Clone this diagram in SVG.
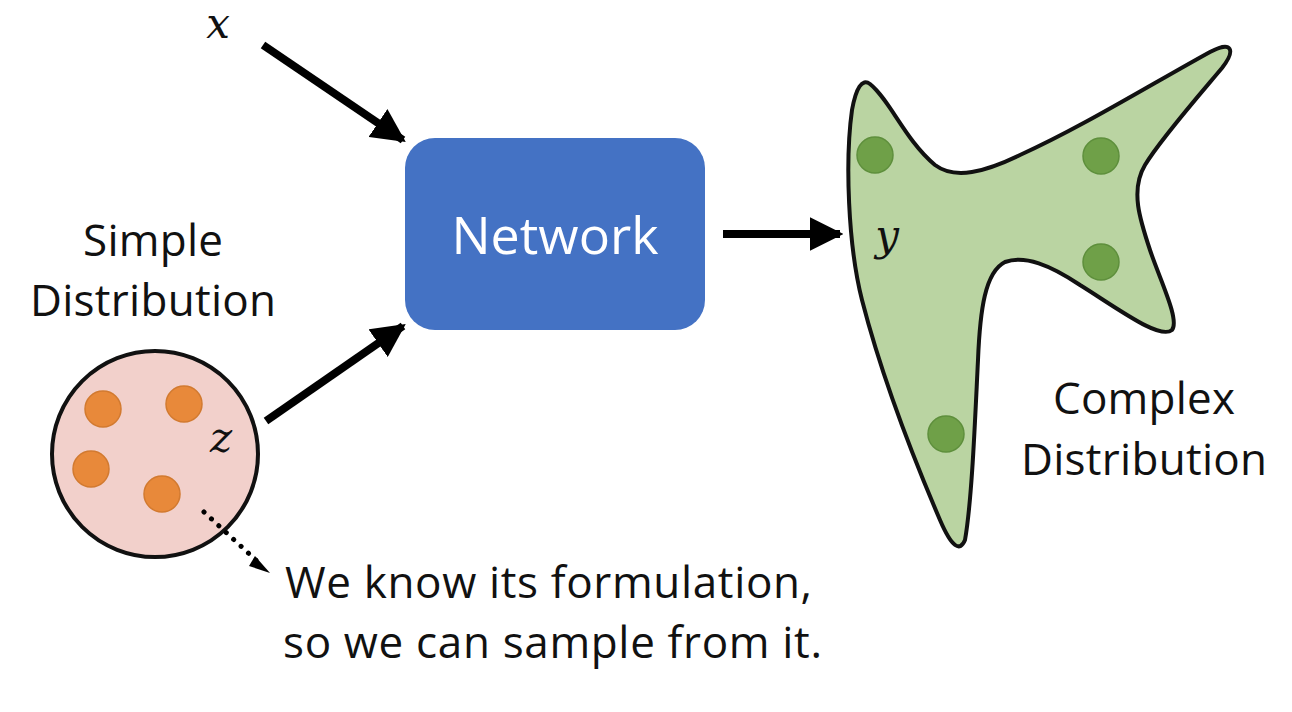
<svg xmlns="http://www.w3.org/2000/svg" width="1292" height="712" viewBox="0 0 1292 712">
<defs>
<style>
.lbl{font-family:"Open Sans","Noto Sans","Liberation Sans",sans-serif;font-size:44px;fill:#111;text-anchor:middle}
.note{font-family:"Open Sans","Noto Sans","Liberation Sans",sans-serif;font-size:44px;fill:#111}
.var{font-family:"DejaVu Serif","Liberation Serif",serif;font-style:italic;font-size:42px;fill:#111;text-anchor:middle}
.arr{stroke:#000;stroke-width:8;fill:none;marker-end:url(#ah)}
.odot{fill:#E8893A;stroke:#D27A30;stroke-width:1.5}
.gdot{fill:#6FA048;stroke:#5E8F3C;stroke-width:1.5}
</style>
<marker id="ah" viewBox="0 0 10 10" refX="9" refY="5" markerWidth="4.2" markerHeight="4.2" orient="auto" markerUnits="strokeWidth">
<path d="M0,0 L10,5 L0,10 z" fill="#000"/>
</marker>
</defs>
<rect width="1292" height="712" fill="#fff"/>

<g id="simple">
<circle cx="155" cy="454" r="103" fill="#F2D0CB" stroke="#111" stroke-width="4"/>
<circle class="odot" cx="103" cy="409" r="18"/>
<circle class="odot" cx="184" cy="404" r="18"/>
<circle class="odot" cx="91" cy="469" r="18"/>
<circle class="odot" cx="162" cy="494" r="18"/>
<text class="var" x="221" y="452">z</text>
<text class="lbl" x="153" y="256" textLength="140">Simple</text>
<text class="lbl" x="153" y="316" textLength="246">Distribution</text>
</g>

<g id="x-input">
<text class="var" x="218" y="38" font-size="39">x</text>
</g>

<g id="network">
<rect x="405" y="138" width="300" height="192" rx="30" fill="#4472C4"/>
<text x="555" y="254" font-family="'Open Sans','Noto Sans','Liberation Sans',sans-serif" font-size="52" fill="#fff" text-anchor="middle">Network</text>
</g>

<g id="complex">
<path d="M870,84 C890,100 905,140 935,165 C955,180 985,172 1020,155 C1080,128 1150,85 1210,52 C1232,40 1236,50 1222,68 C1195,100 1160,140 1145,165 C1130,190 1140,220 1150,250 C1160,280 1180,320 1172,330 C1160,340 1120,310 1080,285 C1050,265 1025,255 1005,262 C985,272 980,310 978,360 C975,420 972,500 965,540 C960,552 952,548 940,520 C910,450 880,370 862,300 C848,245 845,160 852,110 C856,88 862,78 870,84 Z" fill="#BAD4A2" stroke="#111" stroke-width="4" stroke-linejoin="round"/>
<circle class="gdot" cx="875" cy="155" r="18"/>
<circle class="gdot" cx="1101" cy="156" r="18"/>
<circle class="gdot" cx="1101" cy="262" r="18"/>
<circle class="gdot" cx="946" cy="434" r="18"/>
<text class="var" x="887" y="250">y</text>
<text class="lbl" x="1144" y="414" textLength="182">Complex</text>
<text class="lbl" x="1144" y="475" textLength="246">Distribution</text>
</g>

<g id="note">
<text class="note" x="285" y="598" textLength="527">We know its formulation,</text>
<text class="note" x="283" y="658" textLength="539">so we can sample from it.</text>
</g>

<g id="connectors">
<line class="arr" x1="263" y1="45" x2="403" y2="140"/>
<line class="arr" x1="266" y1="421" x2="403" y2="326"/>
<line class="arr" x1="723" y1="234" x2="840" y2="234"/>
<line x1="204" y1="512" x2="258" y2="562" stroke="#000" stroke-width="5" stroke-dasharray="0.1 10" stroke-linecap="round"/>
<path d="M255,556 L270,573 L249,566 Z" fill="#000"/>
</g>
</svg>
